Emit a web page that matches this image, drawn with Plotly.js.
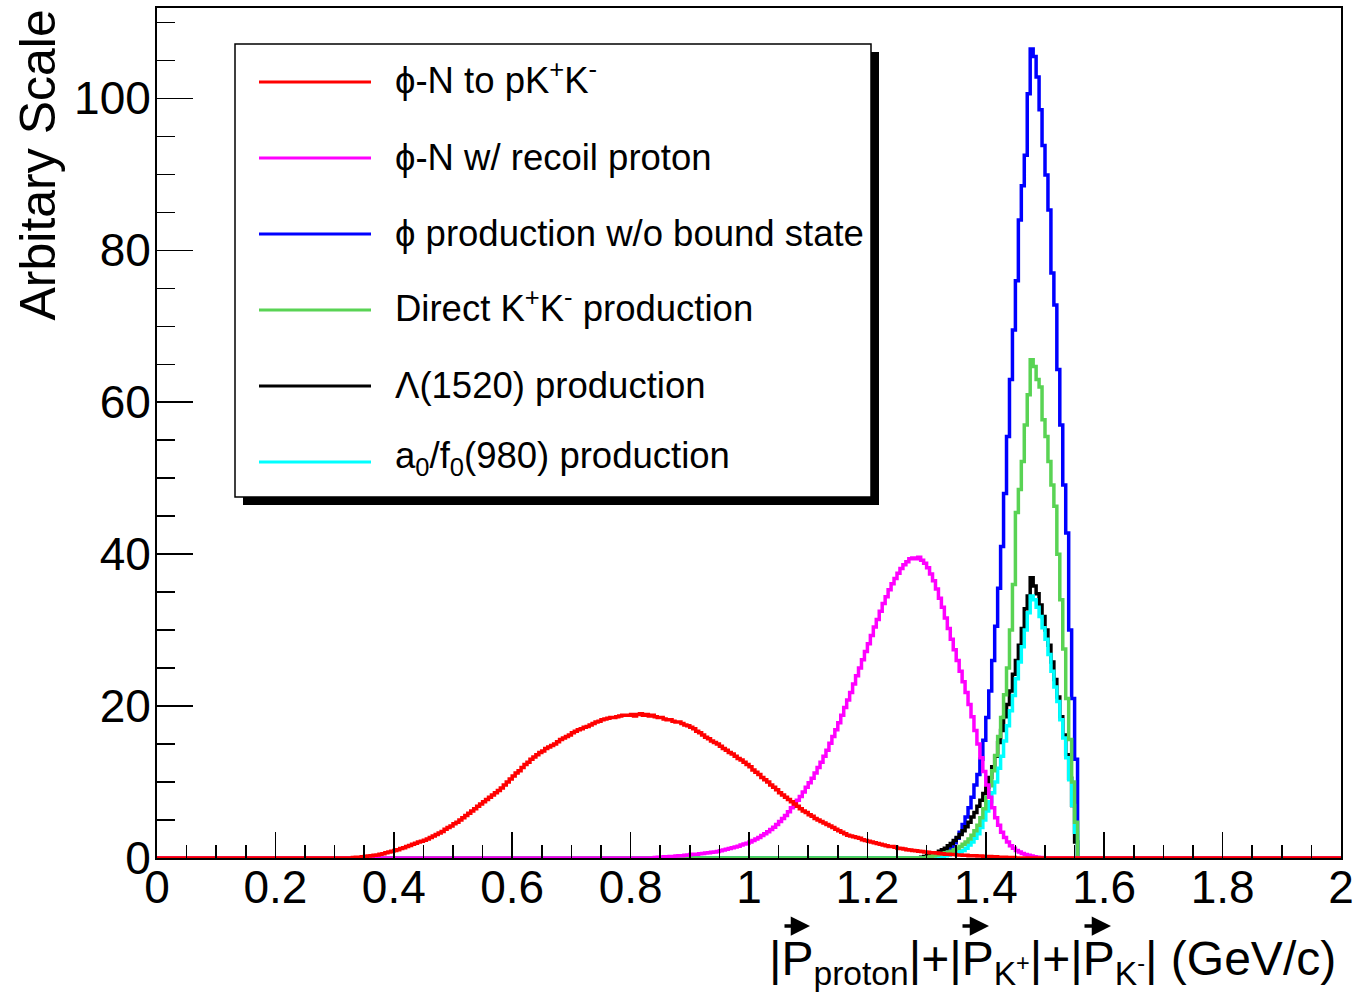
<!DOCTYPE html>
<html>
<head>
<meta charset="utf-8">
<script src="https://cdn.plot.ly/plotly-3.0.1.min.js"></script>
<style>
  html, body { margin: 0; padding: 0; background: #ffffff; }
  #chart { width: 1358px; height: 993px; }
</style>
</head>
<body>
<div id="chart"></div>
<script>
// Histogram binning: 400 bins of 0.005 GeV/c between 0 and 2 GeV/c
const binWidth = 0.005;
const xMin = 0;
const xMax = 2;

// phi-N to pK+K-
const redStart = 0.330;
const redVals = [
  0.05, 0.1, 0.1, 0.15, 0.2, 0.25, 0.3, 0.35, 0.4, 0.5,
  0.55, 0.7, 0.8, 0.9, 1.0, 1.1, 1.25, 1.35, 1.5, 1.65,
  1.8, 1.95, 2.1, 2.2, 2.35, 2.5, 2.7, 2.9, 3.1, 3.3,
  3.5, 3.8, 4.0, 4.2, 4.5, 4.7, 5.0, 5.3, 5.6, 5.9,
  6.2, 6.5, 6.8, 7.1, 7.4, 7.7, 8.0, 8.3, 8.6, 8.9,
  9.2, 9.6, 10.0, 10.4, 10.8, 11.2, 11.5, 11.9, 12.3, 12.6,
  13.0, 13.3, 13.6, 13.9, 14.1, 14.4, 14.6, 14.8, 15.0, 15.3,
  15.6, 15.8, 16.0, 16.2, 16.5, 16.7, 16.9, 17.0, 17.2, 17.3,
  17.5, 17.7, 17.9, 18.0, 18.2, 18.3, 18.4, 18.5, 18.5, 18.6,
  18.7, 18.8, 18.8, 18.8, 18.9, 18.7, 18.9, 19.0, 18.8, 18.9,
  18.7, 18.8, 18.6, 18.5, 18.5, 18.3, 18.2, 18.2, 18.0, 17.9,
  17.9, 17.7, 17.5, 17.4, 17.2, 17.0, 16.7, 16.5, 16.2, 15.9,
  15.7, 15.4, 15.2, 15.0, 14.7, 14.4, 14.2, 13.9, 13.7, 13.4,
  13.1, 12.9, 12.6, 12.3, 12.0, 11.6, 11.3, 11.0, 10.6, 10.3,
  10.0, 9.6, 9.3, 9.0, 8.6, 8.3, 8.0, 7.7, 7.4, 7.1,
  6.8, 6.5, 6.2, 6.0, 5.7, 5.5, 5.2, 5.0, 4.8, 4.6,
  4.4, 4.2, 4.0, 3.8, 3.6, 3.4, 3.2, 3.0, 2.9, 2.8,
  2.7, 2.6, 2.4, 2.3, 2.2, 2.1, 2.0, 1.9, 1.8, 1.7,
  1.6, 1.5, 1.5, 1.4, 1.3, 1.25, 1.2, 1.1, 1.05, 1.0,
  0.95, 0.9, 0.85, 0.8, 0.75, 0.7, 0.7, 0.65, 0.6, 0.55,
  0.5, 0.5, 0.45, 0.45, 0.4, 0.4, 0.35, 0.35, 0.3, 0.3,
  0.3, 0.25, 0.25, 0.2, 0.2, 0.2, 0.15, 0.15, 0.1, 0.1,
  0.1, 0.05, 0.05, 0.05
];

// phi-N w/ recoil proton
const magentaStart = 0.840;
const magentaVals = [
  0.05, 0.1, 0.1, 0.15, 0.15, 0.2, 0.2, 0.25, 0.3, 0.3,
  0.35, 0.4, 0.45, 0.5, 0.5, 0.55, 0.6, 0.65, 0.7, 0.75,
  0.8, 0.85, 0.95, 1.05, 1.15, 1.25, 1.35, 1.45, 1.55, 1.7,
  1.85, 1.95, 2.1, 2.3, 2.5, 2.7, 2.95, 3.2, 3.45, 3.75,
  4.05, 4.4, 4.8, 5.2, 5.6, 6.1, 6.6, 7.1, 7.6, 8.1,
  8.7, 9.3, 9.9, 10.5, 11.2, 11.9, 12.6, 13.4, 14.2, 15.1,
  16.0, 16.9, 17.8, 18.8, 19.8, 20.8, 21.8, 22.9, 24.0, 25.0,
  26.1, 27.2, 28.2, 29.3, 30.4, 31.4, 32.5, 33.5, 34.4, 35.3,
  36.1, 36.8, 37.5, 38.1, 38.6, 39.0, 39.4, 39.5, 39.4, 39.6,
  39.2, 38.8, 38.2, 37.4, 36.5, 35.4, 34.2, 33.0, 31.6, 30.2,
  28.8, 27.4, 26.0, 24.6, 23.2, 21.8, 20.2, 18.6, 16.8, 15.0,
  13.2, 11.4, 9.6, 8.0, 6.6, 5.3, 4.3, 3.4, 2.7, 2.1,
  1.6, 1.3, 1.0, 0.8, 0.6, 0.45, 0.35, 0.25, 0.15, 0.1,
  0.05
];

// phi production w/o bound state
const blueStart = 1.320;
const blueVals = [
  0.2, 0.4, 0.7, 1.0, 1.4, 2.0, 2.6, 3.4, 4.4, 5.4,
  6.6, 8.0, 9.6, 11.0, 13.0, 15.5, 18.5, 22.0, 26.0, 30.5,
  35.5, 41.0, 48.0, 55.5, 63.0, 69.5, 76.0, 84.0, 88.5, 92.5,
  100.6, 106.5, 105.5, 102.8, 98.5, 93.8, 89.9, 85.3, 77.0, 72.8,
  64.3, 57.0, 49.1, 42.8, 30.0, 21.0, 13.0
];

// Direct K+K- production
const greenStart = 1.300;
const greenVals = [
  0.1, 0.2, 0.3, 0.4, 0.5, 0.6, 0.7, 0.8, 0.9, 1.1,
  1.3, 1.5, 1.8, 2.1, 2.5, 3.0, 3.6, 4.3, 5.3, 6.5,
  8.0, 9.5, 11.5, 13.5, 16.0, 18.5, 21.5, 25.0, 30.0, 36.0,
  45.5, 48.5, 52.2, 57.0, 61.0, 65.6, 64.7, 63.0, 62.0, 57.7,
  55.5, 52.2, 49.1, 46.3, 40.0, 34.0, 27.5, 21.0, 15.6, 10.0,
  4.7
];

// Lambda(1520) production
const blackStart = 1.290;
const blackVals = [
  0.1, 0.2, 0.3, 0.4, 0.5, 0.7, 0.9, 1.1, 1.3, 1.6,
  1.9, 2.3, 2.7, 3.1, 3.6, 4.1, 4.7, 5.4, 6.0, 6.8,
  7.6, 8.5, 9.3, 10.6, 12.0, 13.4, 15.2, 16.8, 18.6, 20.2,
  22.0, 24.2, 26.0, 28.0, 30.2, 32.8, 34.5, 36.9, 35.8, 34.8,
  33.3, 31.8, 30.0, 28.0, 25.8, 23.5, 21.2, 18.6, 16.2, 13.6,
  10.5, 6.9, 2.1
];

// a0/f0(980) production
const cyanStart = 1.320;
const cyanVals = [
  0.1, 0.2, 0.3, 0.4, 0.5, 0.6, 0.7, 0.85, 1.0, 1.3,
  1.7, 2.1, 2.6, 3.2, 4.0, 5.0, 6.2, 7.4, 8.6, 10.0,
  11.8, 13.4, 15.4, 17.4, 19.4, 21.4, 23.6, 25.8, 27.8, 30.0,
  32.3, 34.5, 34.0, 33.0, 31.8, 30.3, 28.8, 26.8, 24.6, 22.5,
  20.6, 18.2, 15.8, 13.2, 10.3, 6.9, 3.4
];

// Legend entries, listed top to bottom
const legendLabels = [
  "ϕ-N to pK<sup>+</sup>K<sup>-</sup>",
  "ϕ-N w/ recoil proton",
  "ϕ production w/o bound state",
  "Direct K<sup>+</sup>K<sup>-</sup> production",
  "Λ(1520) production",
  "a<sub>0</sub>/f<sub>0</sub>(980) production"
];
const legendColors = ["#ff0000", "#ff00ff", "#0000ff", "#59d354", "#000000", "#00ffff"];

// Axis ticks
const xTickVals = [0, 0.2, 0.4, 0.6, 0.8, 1, 1.2, 1.4, 1.6, 1.8, 2];
const xTickText = ["0", "0.2", "0.4", "0.6", "0.8", "1", "1.2", "1.4", "1.6", "1.8", "2"];
const yTickVals = [0, 20, 40, 60, 80, 100];
const yTickText = ["0", "20", "40", "60", "80", "100"];
const yMax = 111.9;

const yTitle = "Arbitary Scale";
const xTitle = "|P<sub>proton</sub>|+|P<sub>K<sup>+</sup></sub>|+|P<sub>K<sup>-</sup></sub>| (GeV/c)";

// ---------------------------------------------------------------
const FONT = "'Liberation Sans', Arial, Helvetica, sans-serif";
const W = 1358, H = 993;
const M = { l: 157, r: 17, t: 8, b: 135 };
const plotW = W - M.l - M.r;
const plotH = H - M.t - M.b;
// page pixel -> paper coordinates (for legend box and titles)
const px = (x) => (x - M.l) / plotW;
const py = (y) => (H - M.b - y) / plotH;

// Full-range step outline of a histogram (bin edges on x, contents on y)
function histTrace(start, vals, color, name) {
  const nBins = Math.round((xMax - xMin) / binWidth);
  const first = Math.round((start - xMin) / binWidth);
  const contents = new Array(nBins).fill(0);
  vals.forEach((v, i) => { contents[first + i] = v; });
  const x = [], y = [];
  for (let i = 0; i < nBins; i++) {
    x.push(+(xMin + i * binWidth).toFixed(4));
    y.push(contents[i]);
  }
  x.push(xMax);
  y.push(contents[nBins - 1]);
  return {
    type: "scatter", mode: "lines", name: name,
    x: x, y: y,
    line: { shape: "hv", color: color, width: 3.5 },
    hoverinfo: "skip", showlegend: false
  };
}

// Drawing order: red last so its flat tails sit on top
const traces = [
  histTrace(blueStart, blueVals, legendColors[2], "blue"),
  histTrace(blackStart, blackVals, legendColors[4], "black"),
  histTrace(cyanStart, cyanVals, legendColors[5], "cyan"),
  histTrace(greenStart, greenVals, legendColors[3], "green"),
  histTrace(magentaStart, magentaVals, legendColors[1], "magenta"),
  histTrace(redStart, redVals, legendColors[0], "red")
];

// Legend box with drop shadow
const box = { x0: 235, y0: 44, x1: 871, y1: 497, shadow: 8 };
const rowY0 = 82, rowStep = 76;
const shapes = [
  { type: "rect", xref: "paper", yref: "paper", layer: "above",
    x0: px(box.x0 + box.shadow), x1: px(box.x1 + box.shadow),
    y0: py(box.y1 + box.shadow), y1: py(box.y0 + box.shadow),
    fillcolor: "#000000", line: { width: 0 } },
  { type: "rect", xref: "paper", yref: "paper", layer: "above",
    x0: px(box.x0), x1: px(box.x1), y0: py(box.y1), y1: py(box.y0),
    fillcolor: "#ffffff", line: { color: "#000000", width: 1.5 } }
];
const annotations = [];
legendLabels.forEach((label, i) => {
  const yy = rowY0 + i * rowStep;
  shapes.push({ type: "line", xref: "paper", yref: "paper", layer: "above",
    x0: px(259), x1: px(371), y0: py(yy), y1: py(yy),
    line: { color: legendColors[i], width: 3 } });
  // rows with raised or lowered scripts get a taller text box; re-centre them
  const lift = /<su[pb]>/.test(label) ? 4 : 1;
  annotations.push({ xref: "paper", yref: "paper", x: px(393), y: py(yy),
    xanchor: "left", yanchor: "middle", yshift: lift, showarrow: false, text: label,
    font: { family: FONT, size: 36.5, color: "#000000" } });
});

// Axis titles
annotations.push({ xref: "paper", yref: "paper", x: px(37), y: py(8),
  xanchor: "center", yanchor: "top", textangle: -90, showarrow: false,
  text: yTitle, font: { family: FONT, size: 50, color: "#000000" } });
annotations.push({ xref: "paper", yref: "paper", x: px(1338), y: py(962),
  xanchor: "right", yanchor: "middle", showarrow: false,
  text: xTitle, font: { family: FONT, size: 48, color: "#000000" } });
// vector arrows over each P
[[783, 810], [961, 989], [1083, 1111]].forEach(([a, b]) => {
  annotations.push({ xref: "paper", yref: "paper", axref: "pixel", ayref: "pixel",
    x: px(b), y: py(926), ax: -(b - a), ay: 0, text: "", showarrow: true,
    arrowhead: 2, arrowsize: 1.1, arrowwidth: 3.5, arrowcolor: "#000000",
    standoff: 0, startstandoff: 0 });
});

const axisCommon = {
  showline: true, mirror: true, linecolor: "#000000", linewidth: 2,
  showgrid: false, zeroline: false, ticks: "inside",
  tickcolor: "#000000", tickwidth: 1.5,
  tickfont: { family: FONT, size: 46, color: "#000000" }
};

const layout = {
  width: W, height: H, margin: M,
  paper_bgcolor: "#ffffff", plot_bgcolor: "#ffffff",
  showlegend: false,
  xaxis: Object.assign({}, axisCommon, {
    range: [xMin, xMax], tickmode: "array", tickvals: xTickVals, ticktext: xTickText,
    ticklen: 26, ticklabelstandoff: -12,
    minor: { dtick: 0.05, ticklen: 13, ticks: "inside", tickcolor: "#000000", tickwidth: 1.5 }
  }),
  yaxis: Object.assign({}, axisCommon, {
    range: [0, yMax], tickmode: "array", tickvals: yTickVals, ticktext: yTickText,
    ticklen: 36, ticklabelstandoff: -5,
    minor: { dtick: 5, ticklen: 18, ticks: "inside", tickcolor: "#000000", tickwidth: 1.5 }
  }),
  shapes: shapes,
  annotations: annotations
};

Plotly.newPlot("chart", traces, layout, { staticPlot: true, displayModeBar: false });
</script>
</body>
</html>
